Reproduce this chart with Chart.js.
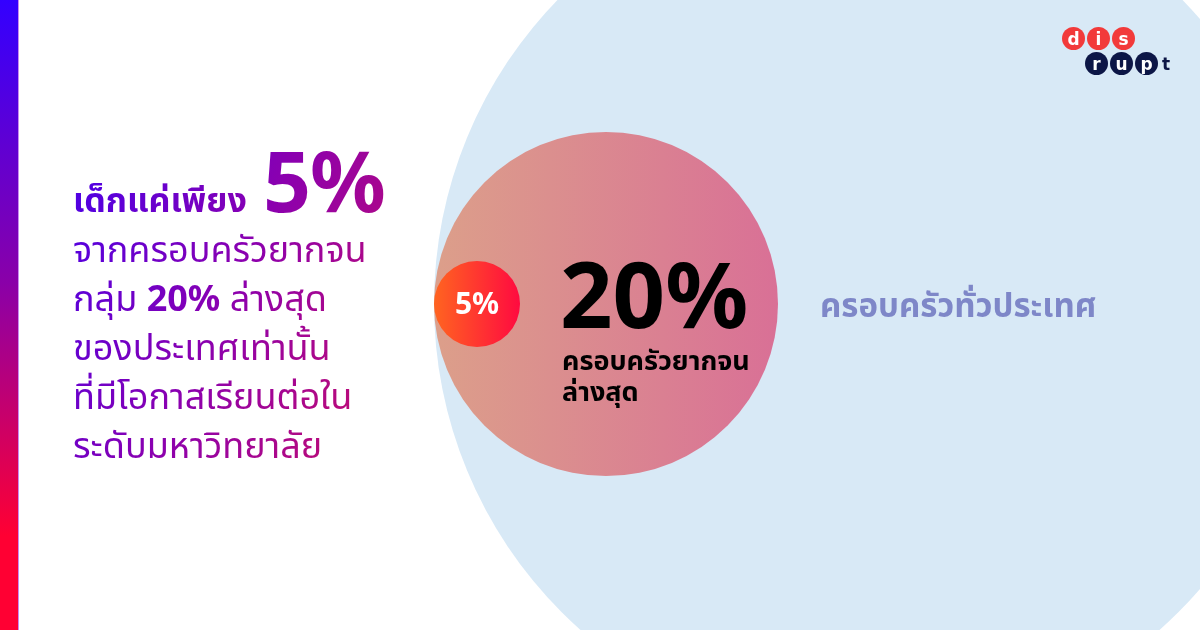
<!DOCTYPE html>
<html lang="th">
<head>
<meta charset="utf-8">
<script src="https://cdn.jsdelivr.net/npm/chart.js@4"></script>
<style>
  html, body { margin: 0; padding: 0; background: #fff; }
  body { width: 1200px; height: 630px; overflow: hidden; position: relative;
         font-family: "Noto Sans", "Noto Sans Thai", "DejaVu Sans", sans-serif; }
  #wrap { position: absolute; left: 0; top: 0; width: 1200px; height: 630px; }
  .bar { position: absolute; left: 0; top: 0; width: 18px; height: 630px;
         background: linear-gradient(to bottom, #3300ff 0%, #8a00a8 45%, #ff0033 85%, #ff0033 100%);
         border-right: 1px solid #c98cf0; }
  .story { position: absolute; left: 73px; top: 150px; width: 340px;
           font-size: 36px; line-height: 49px; color: #8a00b8;
           background: linear-gradient(115deg, #4a00e8 0%, #8a00b0 45%, #d01060 100%);
           -webkit-background-clip: text; background-clip: text; -webkit-text-fill-color: transparent;
           white-space: nowrap; }
  .story b { font-weight: 700; }
  .story .l1 { font-size: 34px; }
  .story .big { font-size: 84px; line-height: 60px; letter-spacing: -1px; margin-left: 16px; }
  .logo { position: absolute; left: 1062px; top: 27px; width: 120px; }
  .logo .row { display: flex; gap: 2px; }
  .logo .row2 { margin-left: 23px; margin-top: 2px; }
  .logo span { width: 23px; height: 23px; border-radius: 50%; display: inline-flex;
               align-items: center; justify-content: center; font: 700 17px "DejaVu Sans", sans-serif; }
  .logo .r { background: #f23a3a; color: #fff; }
  .logo .n { background: #0c1646; color: #fff; }
  .logo .t { background: none; color: #0c1646; width: 12px; }
</style>
</head>
<body>
<div id="wrap"><canvas id="circles"></canvas></div>
<div class="bar"></div>
<div class="story">
  <b class="l1">เด็กแค่เพียง</b><b class="big">5%</b><br>
  จากครอบครัวยากจน<br>
  กลุ่ม <b>20%</b> ล่างสุด<br>
  ของประเทศเท่านั้น<br>
  ที่มีโอกาสเรียนต่อใน<br>
  ระดับมหาวิทยาลัย
</div>
<div class="logo">
  <div class="row"><span class="r">d</span><span class="r">i</span><span class="r">s</span></div>
  <div class="row row2"><span class="n">r</span><span class="n">u</span><span class="n">p</span><span class="t">t</span></div>
</div>
<script>
// groups, largest first
const groupLabels = ["ครอบครัวทั่วประเทศ", "ครอบครัวยากจนล่างสุด", "เด็กที่ได้เรียนมหาวิทยาลัย"];
const groupShares = [100, 20, 5];
const subLines = [[], ["ครอบครัวยากจน", "ล่างสุด"], []];

// layout: circles share a left edge and a middle line
const radiiPx = [436, 172, 43];
const leftEdge = 434;
const midY = 304;

const points = radiiPx.map(r => ({ x: leftEdge + r, y: midY, r: r }));

function fillFor(ctx) {
    const i = ctx.dataIndex;
    if (i === 0) return "#d8e9f6";
    const solid = i === 1 ? "#da8a90" : "#ff3a30";
    const chart = ctx.chart;
    const xs = chart.scales && chart.scales.x;
    if (!xs) return solid;
    const p = points[i];
    const x0 = xs.getPixelForValue(p.x - p.r);
    const x1 = xs.getPixelForValue(p.x + p.r);
    if (!isFinite(x0) || !isFinite(x1)) return solid;
    const g = chart.ctx.createLinearGradient(x0, 0, x1, 0);
    if (i === 1) {
        g.addColorStop(0, "#dc9f8a");
        g.addColorStop(1, "#d97096");
    } else {
        g.addColorStop(0, "#ff6420");
        g.addColorStop(1, "#ff0a40");
    }
    return g;
}

const labelPlugin = {
    id: "circleLabels",
    afterDatasetsDraw(chart) {
        const c = chart.ctx;
        const els = chart.getDatasetMeta(0).data;
        const font = '"Noto Sans", "Noto Sans Thai", "DejaVu Sans", sans-serif';
        c.save();
        // whole country
        const mid = els[1];
        c.fillStyle = "#7e87c8";
        c.font = "700 33px " + font;
        c.textAlign = "left";
        c.textBaseline = "middle";
        c.fillText(groupLabels[0], mid.x + radiiPx[1] + 42, els[0].y + 4);
        // poorest 20%
        const small = els[2];
        const lx = small.x + radiiPx[2] + 42;
        c.fillStyle = "#000";
        c.textBaseline = "alphabetic";
        c.font = "700 92px " + font;
        c.fillText(groupShares[1] + "%", lx - 2, mid.y + 24);
        c.font = "700 27px " + font;
        subLines[1].forEach((t, k) => c.fillText(t, lx, mid.y + 66 + k * 31));
        // 5%
        c.fillStyle = "#fff";
        c.textAlign = "center";
        c.textBaseline = "middle";
        c.font = "700 30px " + font;
        c.fillText(groupShares[2] + "%", small.x, small.y + 1);
        c.restore();
    }
};

new Chart(document.getElementById("circles"), {
    type: "bubble",
    data: {
        labels: groupLabels,
        datasets: [{
            data: points,
            backgroundColor: fillFor,
            borderWidth: 0,
            hoverBorderWidth: 0,
            clip: false
        }]
    },
    options: {
        responsive: true,
        maintainAspectRatio: false,
        animation: false,
        events: [],
        layout: { padding: 0, autoPadding: false },
        scales: {
            x: { type: "linear", min: 0, max: 1200, display: false },
            y: { type: "linear", min: 0, max: 630, reverse: true, display: false }
        },
        plugins: {
            legend: { display: false },
            tooltip: { enabled: false }
        }
    },
    plugins: [labelPlugin]
});
</script>
</body>
</html>
